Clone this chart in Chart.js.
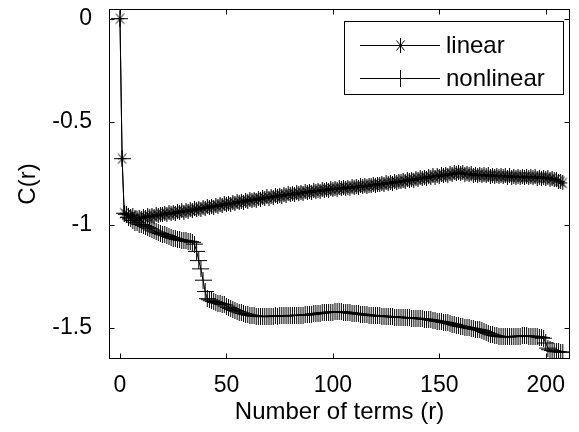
<!DOCTYPE html>
<html>
<head>
<meta charset="utf-8">
<script src="https://cdn.jsdelivr.net/npm/chart.js@4.4.1/dist/chart.umd.min.js"></script>
<style>
  html, body { margin: 0; padding: 0; background: #fff; }
  #wrap { width: 579px; height: 432px; }
</style>
</head>
<body>
<div id="wrap"><canvas id="chart"></canvas></div>
<script>
// C(r) against number of terms r = 0, 1, 2, ...
const linear = [
  0, -0.68, -0.945, -0.952, -0.958, -0.962, -0.955, -0.968, -0.972, -0.965,
  -0.97, -0.962, -0.966, -0.958, -0.963, -0.955, -0.96, -0.952, -0.957, -0.949,
  -0.953, -0.945, -0.95, -0.942, -0.948, -0.94, -0.945, -0.936, -0.942, -0.934,
  -0.939, -0.93, -0.936, -0.928, -0.933, -0.924, -0.929, -0.92, -0.926, -0.917,
  -0.922, -0.913, -0.919, -0.91, -0.915, -0.906, -0.912, -0.903, -0.908, -0.899,
  -0.904, -0.896, -0.901, -0.893, -0.898, -0.889, -0.894, -0.886, -0.891, -0.882,
  -0.887, -0.879, -0.884, -0.876, -0.881, -0.872, -0.877, -0.869, -0.874, -0.866,
  -0.871, -0.863, -0.868, -0.86, -0.865, -0.857, -0.862, -0.854, -0.859, -0.851,
  -0.856, -0.849, -0.853, -0.846, -0.851, -0.843, -0.848, -0.84, -0.845, -0.838,
  -0.843, -0.835, -0.84, -0.833, -0.838, -0.83, -0.835, -0.828, -0.833, -0.825,
  -0.83, -0.824, -0.829, -0.822, -0.827, -0.82, -0.825, -0.818, -0.823, -0.816,
  -0.821, -0.814, -0.819, -0.812, -0.817, -0.81, -0.815, -0.808, -0.812, -0.805,
  -0.81, -0.803, -0.807, -0.8, -0.805, -0.797, -0.802, -0.795, -0.799, -0.792,
  -0.796, -0.789, -0.793, -0.786, -0.79, -0.782, -0.787, -0.779, -0.784, -0.776,
  -0.781, -0.773, -0.778, -0.77, -0.775, -0.767, -0.772, -0.764, -0.769, -0.761,
  -0.766, -0.758, -0.763, -0.755, -0.76, -0.752, -0.757, -0.749, -0.754, -0.746,
  -0.752, -0.748, -0.756, -0.751, -0.758, -0.753, -0.76, -0.755, -0.762, -0.757,
  -0.763, -0.758, -0.764, -0.759, -0.765, -0.76, -0.766, -0.761, -0.767, -0.762,
  -0.768, -0.763, -0.769, -0.764, -0.77, -0.765, -0.77, -0.766, -0.771, -0.766,
  -0.772, -0.767, -0.772, -0.768, -0.773, -0.768, -0.774, -0.769, -0.774, -0.77,
  -0.776, -0.772, -0.779, -0.776, -0.783, -0.781, -0.789, -0.792, -0.798
];

const nonlinear = [
  0, -0.68, -0.945, -0.95, -0.965, -0.972, -0.98, -0.988, -0.992, -0.998,
  -1.0, -1.004, -1.01, -1.015, -1.02, -1.026, -1.031, -1.036, -1.04, -1.043,
  -1.047, -1.05, -1.054, -1.058, -1.062, -1.066, -1.069, -1.072, -1.074, -1.076,
  -1.078, -1.079, -1.081, -1.083, -1.086, -1.095, -1.13, -1.175, -1.215, -1.27,
  -1.325, -1.36, -1.365, -1.37, -1.374, -1.378, -1.381, -1.384, -1.387, -1.39,
  -1.396, -1.402, -1.408, -1.413, -1.417, -1.421, -1.425, -1.429, -1.432, -1.435,
  -1.438, -1.44, -1.442, -1.444, -1.445, -1.446, -1.447, -1.446, -1.447, -1.446,
  -1.445, -1.446, -1.445, -1.444, -1.445, -1.444, -1.443, -1.444, -1.443, -1.442,
  -1.442, -1.441, -1.442, -1.441, -1.44, -1.441, -1.44, -1.439, -1.438, -1.437,
  -1.436, -1.434, -1.433, -1.432, -1.43, -1.429, -1.428, -1.427, -1.426, -1.425,
  -1.425, -1.424, -1.424, -1.423, -1.424, -1.425, -1.426, -1.428, -1.429, -1.43,
  -1.431, -1.433, -1.434, -1.435, -1.436, -1.438, -1.439, -1.44, -1.441, -1.442,
  -1.443, -1.444, -1.444, -1.445, -1.445, -1.446, -1.447, -1.447, -1.448, -1.449,
  -1.449, -1.45, -1.451, -1.451, -1.452, -1.452, -1.453, -1.454, -1.455, -1.455,
  -1.456, -1.457, -1.458, -1.459, -1.46, -1.461, -1.463, -1.465, -1.467, -1.469,
  -1.47, -1.472, -1.474, -1.476, -1.478, -1.48, -1.483, -1.486, -1.489, -1.492,
  -1.494, -1.496, -1.498, -1.5, -1.502, -1.504, -1.506, -1.508, -1.51, -1.512,
  -1.515, -1.52, -1.524, -1.528, -1.532, -1.536, -1.539, -1.541, -1.543, -1.544,
  -1.545, -1.545, -1.546, -1.545, -1.544, -1.544, -1.543, -1.542, -1.542, -1.541,
  -1.541, -1.541, -1.542, -1.542, -1.543, -1.544, -1.545, -1.547, -1.549, -1.552,
  -1.575, -1.6, -1.608, -1.612, -1.615, -1.617, -1.618, -1.619, -1.62
];

const xTicks = [0, 50, 100, 150, 200];
const yTicks = [0, -0.5, -1, -1.5];
const seriesNames = ['linear', 'nonlinear'];

const FONT = "'Liberation Sans', Arial, Helvetica, sans-serif";

// marker images (matlab '*' looks squeezed sideways in the picture)
function starMarker() {
  const c = document.createElement('canvas');
  c.width = 11; c.height = 15;
  const g = c.getContext('2d');
  g.fillStyle = '#000';
  g.fillRect(5, 0, 1, 15);
  g.fillRect(1, 7, 9, 1);
  g.strokeStyle = '#000';
  g.lineWidth = 1;
  g.beginPath();
  g.moveTo(1.5, 2.5); g.lineTo(9.5, 12.5);
  g.moveTo(9.5, 2.5); g.lineTo(1.5, 12.5);
  g.stroke();
  return c;
}

function plusMarker() {
  const c = document.createElement('canvas');
  c.width = 17; c.height = 17;
  const g = c.getContext('2d');
  g.fillStyle = '#000';
  g.fillRect(8, 0, 1, 17);
  g.fillRect(0, 8, 17, 1);
  return c;
}

const markers = [starMarker(), plusMarker()];

function toPoints(vals) {
  return vals.map((v, i) => ({ x: i, y: v }));
}

// box + inward ticks, matlab style
const axesBox = {
  id: 'axesBox',
  afterDraw(chart) {
    const { ctx, chartArea: a, scales } = chart;
    const L = Math.round(a.left) + 0.5, R = Math.round(a.right) - 0.5;
    const T = Math.round(a.top) + 0.5, B = Math.round(a.bottom) - 0.5;
    ctx.save();
    ctx.strokeStyle = '#000';
    ctx.lineWidth = 1;
    ctx.strokeRect(L, T, R - L, B - T);
    ctx.beginPath();
    xTicks.forEach(v => {
      const px = Math.round(scales.x.getPixelForValue(v)) + 0.5;
      ctx.moveTo(px, B); ctx.lineTo(px, B - 5);
      ctx.moveTo(px, T); ctx.lineTo(px, T + 5);
    });
    yTicks.forEach(v => {
      const py = Math.round(scales.y.getPixelForValue(v)) + 0.5;
      ctx.moveTo(L, py); ctx.lineTo(L + 5, py);
      ctx.moveTo(R, py); ctx.lineTo(R - 5, py);
    });
    ctx.stroke();

    // legend
    const bx = 344.5, by = 21.5, bw = 219, bh = 73;
    ctx.fillStyle = '#fff';
    ctx.fillRect(bx, by, bw, bh);
    ctx.strokeRect(bx, by, bw, bh);
    const rows = [45, 78];
    ctx.font = '24px ' + FONT;
    ctx.textBaseline = 'middle';
    ctx.textAlign = 'left';
    rows.forEach((ry, i) => {
      ctx.beginPath();
      ctx.moveTo(360, ry + 0.5); ctx.lineTo(440, ry + 0.5);
      ctx.stroke();
      const m = markers[i];
      ctx.drawImage(m, 400 - Math.floor(m.width / 2), ry - Math.floor(m.height / 2));
      ctx.fillStyle = '#000';
      ctx.fillText(seriesNames[i], 446, ry + 1);
    });
    ctx.restore();
  }
};

new Chart(document.getElementById('chart'), {
  type: 'line',
  plugins: [axesBox],
  data: {
    datasets: [
      {
        label: seriesNames[0],
        data: toPoints(linear),
        borderColor: '#000',
        borderWidth: 1,
        pointStyle: markers[0],
        pointRadius: 8,
        tension: 0,
        fill: false
      },
      {
        label: seriesNames[1],
        data: toPoints(nonlinear),
        borderColor: '#000',
        borderWidth: 1,
        pointStyle: markers[1],
        pointRadius: 8,
        tension: 0,
        fill: false
      }
    ]
  },
  options: {
    responsive: true,
    maintainAspectRatio: false,
    animation: false,
    events: [],
    layout: { padding: { top: 7, right: 8, left: 0, bottom: 0 } },
    plugins: {
      legend: { display: false },
      tooltip: { enabled: false }
    },
    scales: {
      x: {
        type: 'linear',
        min: -5.16,
        max: 211.4,
        grid: { display: false },
        border: { display: false },
        afterBuildTicks: s => { s.ticks = xTicks.map(v => ({ value: v })); },
        afterFit: s => { s.height = 73; s.paddingLeft = 0; s.paddingRight = 0; },
        ticks: {
          color: '#000',
          padding: 5,
          maxRotation: 0,
          font: { family: FONT, size: 23 },
          callback: v => String(v)
        },
        title: {
          display: true,
          text: 'Number of terms (r)',
          color: '#000',
          font: { family: FONT, size: 24 },
          padding: { top: 0, bottom: 5 }
        }
      },
      y: {
        type: 'linear',
        min: -1.653,
        max: 0.047,
        grid: { display: false },
        border: { display: false },
        afterBuildTicks: s => { s.ticks = yTicks.map(v => ({ value: v })); },
        afterFit: s => { s.width = 109; s.paddingTop = 0; s.paddingBottom = 0; },
        ticks: {
          color: '#000',
          padding: 9,
          font: { family: FONT, size: 23 },
          callback: v => String(v)
        },
        title: {
          display: true,
          text: 'C(r)',
          color: '#000',
          font: { family: FONT, size: 24 },
          padding: { top: 14, bottom: 0 }
        }
      }
    }
  }
});
</script>
</body>
</html>
